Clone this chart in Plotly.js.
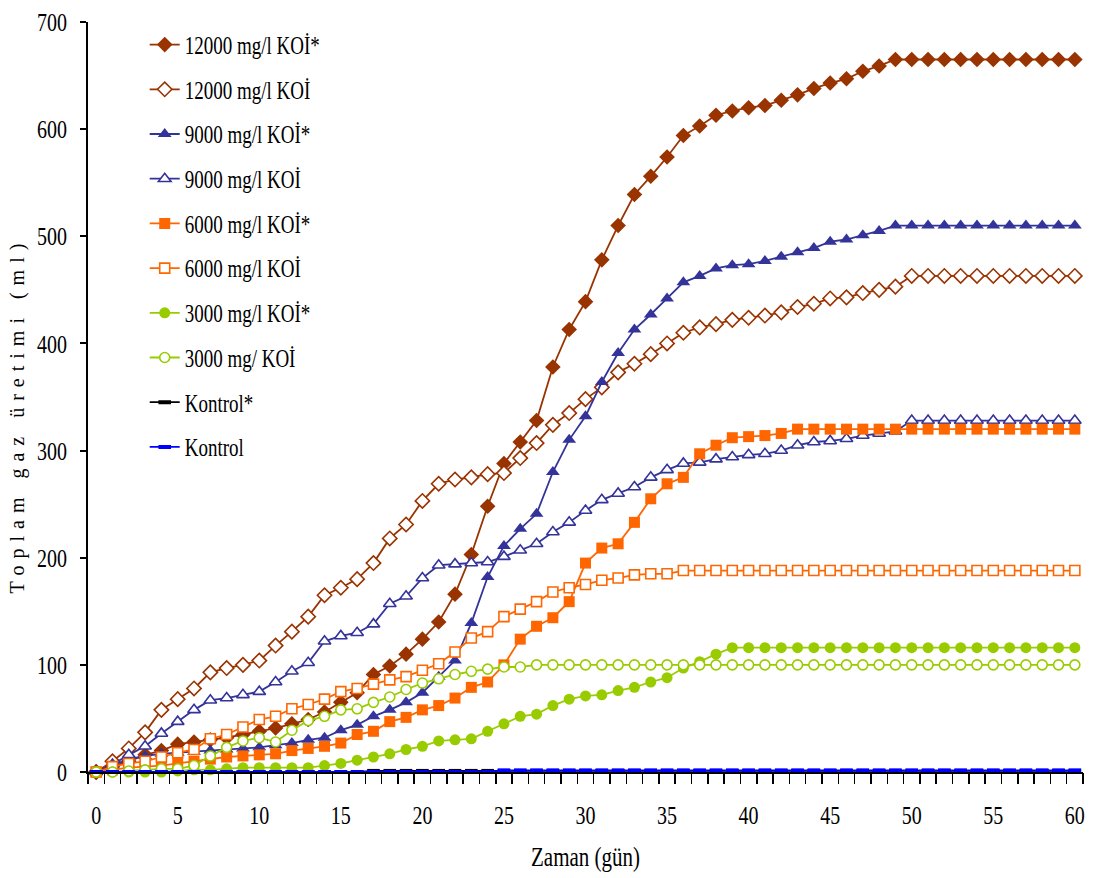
<!DOCTYPE html>
<html>
<head>
<meta charset="utf-8">
<script src="https://cdn.plot.ly/plotly-3.0.1.min.js"></script>
<style>
  html, body { margin: 0; padding: 0; background: #fff; }
  #chart { width: 1093px; height: 878px; }
</style>
</head>
<body>
<div id="chart"></div>
<script>
// Days of incubation (category axis)
const days = [0,1,2,3,4,5,6,7,8,9,10,11,12,13,14,15,16,17,18,19,20,
  21,22,23,24,25,26,27,28,29,30,31,32,33,34,35,36,37,38,39,40,
  41,42,43,44,45,46,47,48,49,50,51,52,53,54,55,56,57,58,59,60];

// Cumulative gas production (ml)
const cod12000Star = [0,5,10,16,20,26,28,30,32,35,38,41,45,49,56,65,74,91,99,110,124,
  140,166,203,248,288,308,328,378,413,439,478,510,539,556,574,594,603,613,617,620,
  622,627,632,638,643,647,654,659,665,665,665,665,665,665,665,665,665,665,665,665];
const cod12000 = [0,10,22,37,58,68,78,93,97,100,104,118,131,145,165,172,180,195,218,231,253,
  269,273,275,278,279,293,307,324,335,348,359,373,381,390,400,410,415,418,422,424,
  426,429,434,437,442,443,447,450,453,463,463,463,463,463,463,463,463,463,463,463];
const cod9000Star = [0,6,12,15,17,18,19,20,21,22,23,25,27,30,32,39,44,52,58,65,74,
  89,104,139,182,211,227,241,280,310,332,364,391,413,427,442,457,463,470,473,474,
  477,481,485,489,495,497,501,505,510,510,510,510,510,510,510,510,510,510,510,510];
const cod9000 = [0,7,16,24,36,47,58,67,69,72,75,84,94,102,122,127,130,138,157,164,181,
  193,194,195,196,201,207,213,224,233,244,254,260,266,275,282,288,289,292,294,296,
  297,300,305,308,309,311,314,316,318,328,328,328,328,328,328,328,328,328,328,328];
const cod6000Star = [0,2,4,5,6,8,10,12,14,15,16,17,20,22,24,27,35,38,47,51,58,
  62,69,79,84,100,124,136,144,159,195,209,213,233,255,269,275,297,305,312,313,
  314,316,320,320,320,320,320,320,320,320,320,320,320,320,320,320,320,320,320,320];
const cod6000 = [0,5,8,10,14,18,21,31,35,42,49,52,59,63,68,75,78,82,86,89,95,
  101,112,125,131,145,152,159,168,172,175,179,181,184,185,185,188,188,188,188,188,
  188,188,188,188,188,188,188,188,188,188,188,188,188,188,188,188,188,188,188,188];
const cod3000Star = [0,0,0,0,0,1,2,2,3,4,4,4,4,4,6,8,11,14,17,21,24,
  29,30,31,38,45,52,54,62,68,71,72,76,79,84,88,97,103,110,116,116,
  116,116,116,116,116,116,116,116,116,116,116,116,116,116,116,116,116,116,116,116];
const cod3000 = [0,0,1,2,3,3,6,15,23,29,32,28,39,48,52,58,59,65,70,77,83,
  87,91,94,96,98,98,100,100,100,100,100,100,100,100,100,100,100,100,100,100,
  100,100,100,100,100,100,100,100,100,100,100,100,100,100,100,100,100,100,100,100];
const controlStar = [0,0,0,0,0,0,0,0,0,0,0,0,0,0,0,0,0,1,1,1,1,
  1,1,1,1,1,1,1,1,1,1,1,1,1,1,1,1,1,1,1,1,
  1,1,1,1,1,1,1,1,1,1,1,1,1,1,1,1,1,1,1,1];
const control = [0,0,0,0,0,0,0,0,0,0,0,0,0,0,0,0,0,0,0,0,0,
  0,0,0,0,1.5,1.5,1.5,1.5,1.5,1.5,1.5,1.5,1.5,1.5,1.5,1.5,1.5,1.5,1.5,1.5,
  1.5,1.5,1.5,1.5,1.5,1.5,1.5,1.5,1.5,1.5,1.5,1.5,1.5,1.5,1.5,1.5,1.5,1.5,1.5,1.5];

const seriesNames = ['12000 mg/l KOİ*', '12000 mg/l KOİ', '9000 mg/l KOİ*', '9000 mg/l KOİ',
  '6000 mg/l KOİ*', '6000 mg/l KOİ', '3000 mg/l KOİ*', '3000 mg/ KOİ', 'Kontrol*', 'Kontrol'];
const seriesValues = [cod12000Star, cod12000, cod9000Star, cod9000, cod6000Star, cod6000,
  cod3000Star, cod3000, controlStar, control];

const BROWN = '#993300', NAVY = '#333399', ORANGE = '#FF6600', LIME = '#99CC00';
const styles = [
  { color: BROWN,  symbol: 'diamond',      size: 12, filled: true },
  { color: BROWN,  symbol: 'diamond',      size: 11, filled: false },
  { color: NAVY,   symbol: 'triangle-up',  size: 12, filled: true },
  { color: NAVY,   symbol: 'triangle-up',  size: 11, filled: false },
  { color: ORANGE, symbol: 'square',       size: 11, filled: true },
  { color: ORANGE, symbol: 'square',       size: 10, filled: false },
  { color: LIME,   symbol: 'circle',       size: 11, filled: true },
  { color: LIME,   symbol: 'circle',       size: 10, filled: false },
  { color: '#000000', symbol: 'line-ew',   size: 9,  filled: true, dash: true },
  { color: '#0000FF', symbol: 'line-ew',   size: 9,  filled: true, dash: true }
];

const traces = seriesValues.map((vals, i) => {
  const s = styles[i];
  const marker = s.dash
    ? { symbol: s.symbol, size: s.size, line: { color: s.color, width: 4 } }
    : { symbol: s.symbol, size: s.size,
        color: s.filled ? s.color : '#FFFFFF',
        line: { color: s.color, width: s.filled ? 0 : 1.6 } };
  return {
    type: 'scatter', mode: 'lines+markers',
    x: days, y: vals, name: seriesNames[i], legendgroup: 'g' + i,
    line: { color: s.color, width: 1.8 },
    marker: marker, cliponaxis: false
  };
});

// Secondary x axis carries the tick marks between day categories
traces.push({ type: 'scatter', x: [], y: [], xaxis: 'x2', yaxis: 'y',
  showlegend: false, hoverinfo: 'skip' });

const serif = 'Liberation Serif, Times New Roman, serif';
const layout = {
  width: 1093, height: 878,
  margin: { l: 88, r: 10, t: 22, b: 106 },
  paper_bgcolor: '#FFFFFF', plot_bgcolor: '#FFFFFF',
  font: { family: serif, color: '#000000', size: 20 },
  showlegend: true,
  legend: {
    x: 0.057, y: 0.995, xanchor: 'left', yanchor: 'top',
    bgcolor: 'rgba(0,0,0,0)', borderwidth: 0,
    font: { family: serif, size: 19, color: '#000000' },
    tracegroupgap: 17, itemwidth: 30
  },
  xaxis: {
    range: [-0.5, 60.5], tickmode: 'array',
    tickvals: [0, 5, 10, 15, 20, 25, 30, 35, 40, 45, 50, 55, 60],
    ticks: '', ticklabelstandoff: 24,
    showline: true, linecolor: '#000000', linewidth: 2,
    showgrid: false, zeroline: false,
    tickfont: { family: serif, size: 20 },
    title: { text: 'Zaman (gün)', font: { family: serif, size: 21 }, standoff: 24 }
  },
  xaxis2: {
    overlaying: 'x', anchor: 'y', side: 'bottom',
    range: [-0.5, 60.5], tickmode: 'linear', tick0: -0.5, dtick: 1,
    ticks: 'outside', ticklen: 11, tickwidth: 1.5, tickcolor: '#000000',
    showticklabels: false, showline: false, showgrid: false, zeroline: false
  },
  yaxis: {
    range: [0, 700], tickmode: 'array',
    tickvals: [0, 100, 200, 300, 400, 500, 600, 700],
    ticks: 'outside', ticklen: 6, tickwidth: 2, tickcolor: '#000000',
    ticklabelstandoff: 9,
    showline: true, linecolor: '#000000', linewidth: 2,
    showgrid: false, zeroline: false,
    tickfont: { family: serif, size: 20 },
    title: { text: 'Toplam gaz üretimi (ml)', font: { family: serif, size: 20 }, standoff: 16 }
  }
};

// Stretch a text element vertically about its own centre
function stretchY(el, factor) {
  const bb = el.getBBox();
  const cy = bb.y + bb.height / 2;
  const prev = el.getAttribute('transform') || '';
  el.setAttribute('transform',
    prev + ' translate(0,' + cy + ') scale(1,' + factor + ') translate(0,' + (-cy) + ')');
}

const gd = document.getElementById('chart');
Plotly.newPlot(gd, traces, layout, { displayModeBar: false, staticPlot: true }).then(() => {
  gd.querySelectorAll('.xtick text, .ytick text, .legendtext, .xtitle')
    .forEach(el => stretchY(el, 1.3));
  // Wider letter spacing on the vertical axis title, nudged right and down
  const yt = gd.querySelector('.ytitle');
  if (yt) {
    yt.style.letterSpacing = '7px';
    const prev = yt.getAttribute('transform') || '';
    yt.setAttribute('transform', 'translate(6,18) ' + prev);
  }
});
</script>
</body>
</html>
